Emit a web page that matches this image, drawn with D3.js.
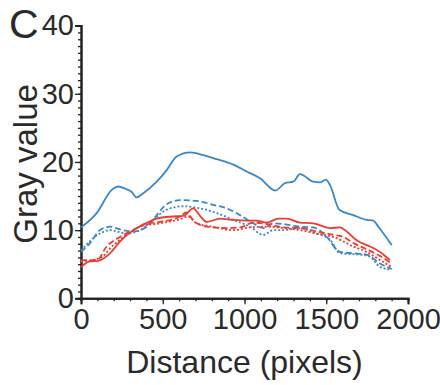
<!DOCTYPE html>
<html>
<head>
<meta charset="utf-8">
<style>
  body { margin: 0; background: #fff; }
  svg text { font-family: "Liberation Sans", Arial, sans-serif; fill: #2a2a2a; }
  .axis path, .axis line { stroke: #222; }
</style>
</head>
<body>
<svg id="chart" width="440" height="385"></svg>
<script src="https://cdn.jsdelivr.net/npm/d3@7"></script>
<script>
// values: [distance, gray value]
const blueSolid = [[0,10.4],[96,12.5],[188,15.9],[228,16.4],[269,16.1],[310,15.6],[340,14.8],[381,15.4],[463,17.1],[524,18.8],[585,20.8],[667,21.4],[748,21.0],[830,20.4],[932,19.6],[1013,18.6],[1095,17.6],[1189,15.8],[1248,16.9],[1299,17.1],[1339,18.2],[1421,17.1],[1462,17.0],[1498,17.4],[1523,16.6],[1580,13.0],[1666,12.2],[1747,11.5],[1788,11.4],[1819,10.5],[1900,7.8]]
const blueDashed = [[0,6.8],[55,8.1],[116,10.0],[177,10.5],[238,10.1],[320,9.8],[402,10.5],[463,12.2],[524,13.8],[606,14.4],[707,14.3],[809,13.7],[891,13.2],[972,12.2],[1054,11.0],[1115,10.3],[1176,11.0],[1238,10.9],[1339,10.5],[1421,10.4],[1503,9.0],[1584,6.8],[1666,6.6],[1747,6.4],[1829,5.1],[1900,4.3]]
const blueDotted = [[0,7.0],[116,9.5],[177,10.0],[279,9.5],[361,10.0],[442,11.5],[524,13.0],[626,13.5],[728,13.2],[830,12.5],[932,11.5],[1034,10.5],[1115,9.3],[1176,10.0],[1238,10.0],[1339,10.3],[1441,9.5],[1523,8.6],[1584,6.6],[1707,6.4],[1768,6.1],[1829,4.6],[1900,4.2]]
const redSolid = [[0,4.6],[55,5.4],[106,5.5],[177,6.6],[238,8.3],[320,10.0],[381,10.8],[463,11.7],[565,12.0],[626,12.1],[687,13.2],[728,12.1],[769,11.2],[850,11.7],[932,11.5],[1013,11.4],[1074,11.4],[1136,11.1],[1207,11.7],[1258,11.7],[1339,11.1],[1421,11.0],[1523,10.3],[1584,10.4],[1625,9.8],[1686,8.5],[1768,7.6],[1829,6.8],[1890,5.6]]
const redDashed = [[0,5.6],[96,5.6],[157,7.6],[238,9.0],[320,10.0],[402,11.0],[483,11.2],[606,12.0],[646,12.6],[687,11.4],[769,10.5],[891,10.3],[972,10.4],[1054,11.1],[1136,10.9],[1238,10.4],[1339,10.3],[1441,9.8],[1543,9.3],[1605,9.0],[1666,8.1],[1747,7.2],[1829,6.2],[1900,5.1]]
const redDotted = [[0,5.4],[116,5.9],[198,7.8],[279,9.3],[361,10.5],[483,11.0],[606,11.6],[657,12.0],[707,11.0],[809,10.5],[932,10.0],[1034,10.4],[1136,10.5],[1238,10.3],[1339,10.0],[1441,9.5],[1543,9.0],[1666,7.6],[1747,6.8],[1829,5.6],[1900,4.6]]

const xTicks = [0, 500, 1000, 1500, 2000]
const yTicks = [0, 10, 20, 30, 40]

const series = [
  { data: blueSolid, color: "#3a87c8", dash: null },
  { data: blueDashed, color: "#3a87c8", dash: "6,3" },
  { data: blueDotted, color: "#3a87c8", dash: "2,2" },
  { data: redSolid, color: "#ee3b30", dash: null },
  { data: redDashed, color: "#ee3b30", dash: "6,3" },
  { data: redDotted, color: "#ee3b30", dash: "2,2" }
]

let svg = d3.select("#chart")
let mLeft = 81, mRight = 408, mTop = 25.6, mBottom = 298.3

let x = d3.scaleLinear().domain([0, 2000]).range([mLeft, mRight])
let y = d3.scaleLinear().domain([0, 40]).range([mBottom, mTop])

// minor ticks
let xAxisMinor = d3.axisBottom(x).tickValues(d3.range(0, 2001, 100)).tickSize(3).tickFormat("")
let yAxisMinor = d3.axisLeft(y).tickValues(d3.range(0, 41, 1)).tickSize(3).tickFormat("")

svg.append("g").attr("class", "axis")
  .attr("transform", "translate(0," + mBottom + ")")
  .call(xAxisMinor)
svg.append("g").attr("class", "axis")
  .attr("transform", "translate(" + mLeft + ",0)")
  .call(yAxisMinor)

let xAxis = d3.axisBottom(x).tickValues(xTicks).tickSize(6).tickPadding(4).tickFormat(d3.format("d"))
let yAxis = d3.axisLeft(y).tickValues(yTicks).tickSize(6).tickPadding(1).tickFormat(d3.format("d"))

let gx = svg.append("g").attr("class", "axis")
  .attr("transform", "translate(0," + mBottom + ")")
  .call(xAxis)
let gy = svg.append("g").attr("class", "axis")
  .attr("transform", "translate(" + mLeft + ",0)")
  .call(yAxis)

svg.selectAll(".axis .domain").attr("stroke-width", 2)
svg.selectAll(".axis line").attr("stroke-width", 1.3)
gx.selectAll("text").attr("font-size", 29).attr("fill", "#2a2a2a").attr("font-family", "Liberation Sans, Arial, sans-serif")
gy.selectAll("text").attr("font-size", 29).attr("fill", "#2a2a2a").attr("font-family", "Liberation Sans, Arial, sans-serif")

let line = d3.line()
  .x(d => x(d[0]))
  .y(d => y(d[1]))
  .curve(d3.curveMonotoneX)

svg.append("g").selectAll("path")
  .data(series)
  .enter()
  .append("path")
  .attr("d", d => line(d.data))
  .attr("fill", "none")
  .attr("stroke", d => d.color)
  .attr("stroke-width", 1.8)
  .attr("stroke-dasharray", d => d.dash)

// labels
svg.append("text")
  .attr("x", (mLeft + mRight) / 2)
  .attr("y", 373)
  .attr("text-anchor", "middle")
  .attr("font-size", 32)
  .text("Distance (pixels)")

svg.append("text")
  .attr("transform", "translate(37," + ((mTop + mBottom) / 2 + 2) + ") rotate(-90)")
  .attr("text-anchor", "middle")
  .attr("font-size", 33)
  .text("Gray value")

svg.append("text")
  .attr("x", 9)
  .attr("y", 38)
  .attr("font-size", 41)
  .text("C")
</script>
</body>
</html>
